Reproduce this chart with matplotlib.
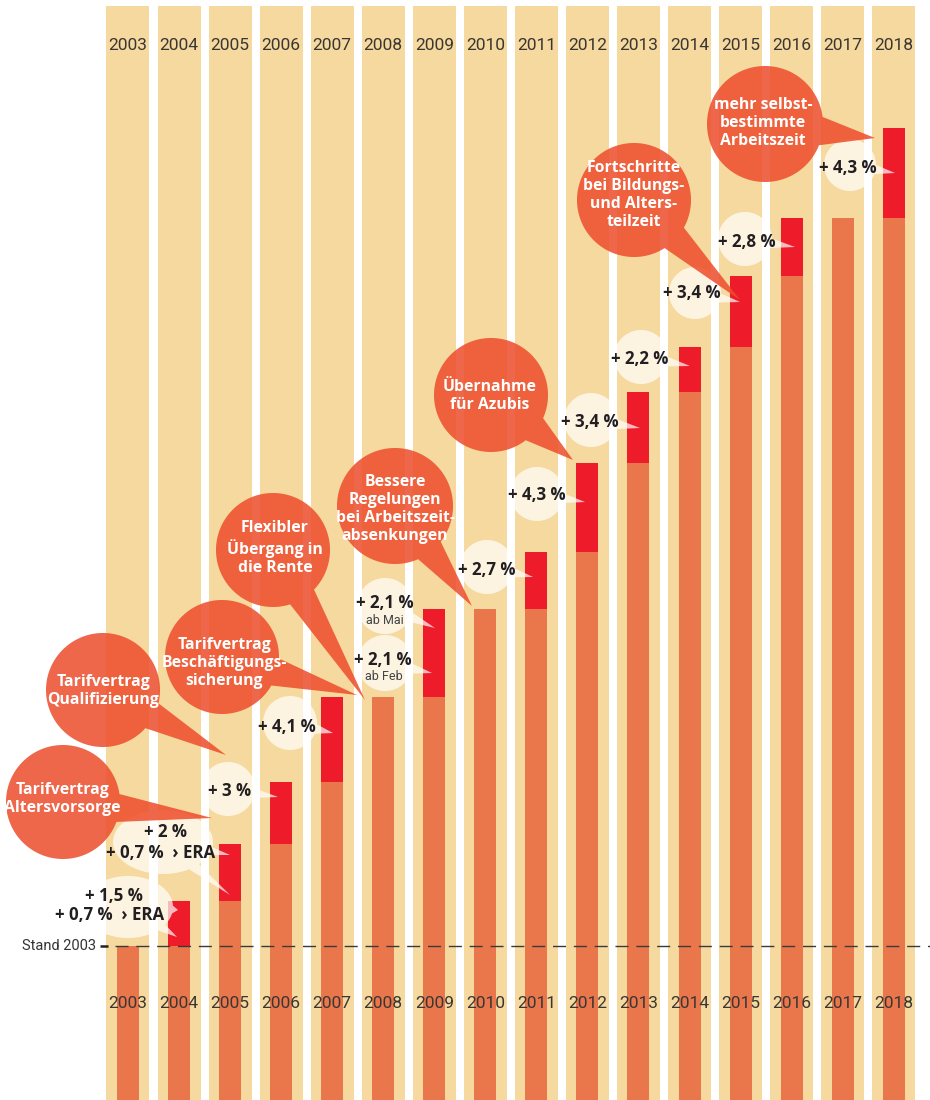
import numpy as np
import matplotlib
matplotlib.use("Agg")
import matplotlib.pyplot as plt
from matplotlib.patches import Polygon

# ---------------- data ----------------
years = list(range(2003, 2019))
year_labels = [str(y) for y in years]
# Tarif level (index, Stand 2003 = 100)
level = [100.0, 102.6, 105.9, 109.5, 114.4, 114.4, 119.5, 119.5,
         122.8, 127.9, 132.0, 134.6, 138.7, 142.1, 142.1, 147.3]
stand_2003 = 100.0
stand_label = "Stand 2003"

# percentage call-outs (text lines) per year
pct_texts = {
    2004: ["+ 1,5 %", "+ 0,7 %  \u203a ERA"],
    2005: ["+ 2 %", "+ 0,7 %  \u203a ERA"],
    2006: ["+ 3 %"],
    2007: ["+ 4,1 %"],
    "2009b": ["+ 2,1 %", "ab Mai"],
    "2009a": ["+ 2,1 %", "ab Feb"],
    2011: ["+ 2,7 %"],
    2012: ["+ 4,3 %"],
    2013: ["+ 3,4 %"],
    2014: ["+ 2,2 %"],
    2015: ["+ 3,4 %"],
    2016: ["+ 2,8 %"],
    2018: ["+ 4,3 %"],
}
# topic call-outs
topics = [
    "Tarifvertrag\nAltersvorsorge",
    "Tarifvertrag\nQualifizierung",
    "Tarifvertrag\nBesch\u00e4ftigungs-\nsicherung",
    "Flexibler\n\u00dcbergang in\ndie Rente",
    "Bessere\nRegelungen\nbei Arbeitszeit-\nabsenkungen",
    "\u00dcbernahme\nf\u00fcr Azubis",
    "Fortschritte\nbei Bildungs-\nund Alters-\nteilzeit",
    "mehr selbst-\nbestimmte\nArbeitszeit",
]

# ---------------- style ----------------
BEIGE = "#F5D99E"
ORANGE = "#EA774C"
RED = "#EE1C2B"
BUBBLE = (237/255, 76/255, 43/255)
DARK = "#231F20"
YEARCOL = "#3A3633"
FONT = ["Roboto", "DejaVu Sans"]
BFONT = ["Open Sans", "DejaVu Sans"]

W, H = 930, 1100
fig = plt.figure(figsize=(W/100, H/100), dpi=100)
ax = fig.add_axes([0, 0, 1, 1])
ax.set_xlim(-2.507, 15.710)
ax.set_ylim(91.10, 154.68)
ax.axis("off")

x = np.arange(len(years))
lev = np.array(level)
prev = np.concatenate([[lev[0]], lev[:-1]])
floor = 85.0
stripe_top = 154.35

ax.bar(x, stripe_top - floor, bottom=floor, width=0.842, color=BEIGE, zorder=1, linewidth=0)
ax.bar(x, prev - floor, bottom=floor, width=0.431, color=ORANGE, zorder=2, linewidth=0)
ax.bar(x, lev - prev, bottom=prev, width=0.431, color=RED, zorder=2, linewidth=0)

ax.axhline(stand_2003, xmin=115/W, xmax=1, color="#3a3a3a", lw=1.0,
           dashes=(9.4, 5.6), zorder=3)

xt = ax.get_xaxis_transform()
for i, lab in enumerate(year_labels):
    for fy in (1 - 46/H, 1 - 1003/H):
        ax.text(i, fy, lab, transform=xt, ha="center", va="center",
                fontsize=12.5, color=YEARCOL, family=FONT, fontweight="normal", zorder=4)

# ---------------- overlay in pixel space for call-outs ----------------
ov = fig.add_axes([0, 0, 1, 1])
ov.set_xlim(0, W)
ov.set_ylim(H, 0)
ov.axis("off")
ov.patch.set_alpha(0)


def bubble(cx, cy, rx, ry, tips, half_deg, **kw):
    t = np.linspace(0, 2*np.pi, 720, endpoint=False)
    tails = [np.arctan2((ty-cy)/ry, (tx-cx)/rx) for tx, ty in tips]
    d = np.deg2rad(half_deg)
    pts, done = [], set()
    for a in t:
        hit = None
        for k, ta in enumerate(tails):
            diff = (a - ta + np.pi) % (2*np.pi) - np.pi
            if abs(diff) < d:
                hit = k
        if hit is None:
            pts.append((cx + rx*np.cos(a), cy + ry*np.sin(a)))
        elif hit not in done:
            pts.append(tips[hit])
            done.add(hit)
    ov.add_patch(Polygon(pts, closed=True, linewidth=0, **kw))


# stand 2003 label and tick
ov.plot([100, 108], [946, 946], color="#222222", lw=1.8, solid_capstyle="butt")
ov.text(96, 946, stand_label, ha="right", va="center", fontsize=10.5,
        color="#333333", family=FONT)

# percentage bubbles: (key, center, radii, tips, text positions)
cream_layout = [
    (2004, (128, 907), (45, 31), [(178, 910), (177, 937)], [(114, 896), (110, 915)]),
    (2005, (163, 842), (50, 32), [(230, 855), (230, 895)], [(165, 832), (161, 853)]),
    (2006, (228, 789), (27, 27), [(278, 797)], [(230, 791)]),
    (2007, (290, 723), (27, 27), [(333, 733)], [(287, 727)]),
    ("2009b", (385, 606), (28, 28), [(435, 628)], [(385, 603), (385, 620)]),
    ("2009a", (385, 663), (28, 28), [(432, 673)], [(383, 660), (384, 677)]),
    (2011, (487, 567), (27, 27), [(533, 577)], [(487, 570)]),
    (2012, (537, 494), (27, 27), [(585, 502)], [(537, 495)]),
    (2013, (591, 420), (27, 27), [(640, 428)], [(590, 422)]),
    (2014, (641, 357), (27, 27), [(690, 366)], [(640, 359)]),
    (2015, (695, 293), (26, 26), [(740, 302)], [(692, 293)]),
    (2016, (745, 239), (27, 27), [(795, 247)], [(747, 242)]),
    (2018, (850, 165), (26, 26), [(895, 173)], [(848, 168)]),
]
for key, (cx, cy), (rx, ry), tips, tpos in cream_layout:
    bubble(cx, cy, rx, ry, tips, 10 if rx < 40 else 7, color="white", alpha=0.7, zorder=5)

topic_layout = [
    ((63, 802), 57, (212, 818), (62, 799)),
    ((103, 690), 57, (226, 755), (103, 691)),
    ((222, 657), 57, (357, 695), (224, 663)),
    ((273, 550), 57, (365, 700), (275, 548)),
    ((395, 506), 58, (472, 606), (395, 509)),
    ((491, 395), 57, (573, 460), (490, 396)),
    ((634, 200), 57, (740, 300), (634, 195)),
    ((765, 124), 58, (875, 138), (763, 123)),
]
for txt, ((cx, cy), r, tip, (tx, ty)) in zip(topics, topic_layout):
    bubble(cx, cy, r, r, [tip], 14, color=BUBBLE, alpha=0.85, zorder=6)
    ov.text(tx, ty, txt, ha="center", va="center", fontsize=11.3, color="white",
            fontweight="bold", family=BFONT, linespacing=1.17, zorder=8)

for key, c, rr, tips, tpos in cream_layout:
    lines = pct_texts[key]
    for j, (line, (px, py)) in enumerate(zip(lines, tpos)):
        if line.startswith("ab "):
            ov.text(px, py, line, ha="center", va="center", fontsize=9,
                    color="#444444", family=FONT, fontweight="normal", zorder=8)
        else:
            ov.text(px, py, line, ha="center", va="center", fontsize=12.2,
                    color=DARK, family=BFONT, fontweight="bold", zorder=8)

fig.savefig("out.png", dpi=100)
